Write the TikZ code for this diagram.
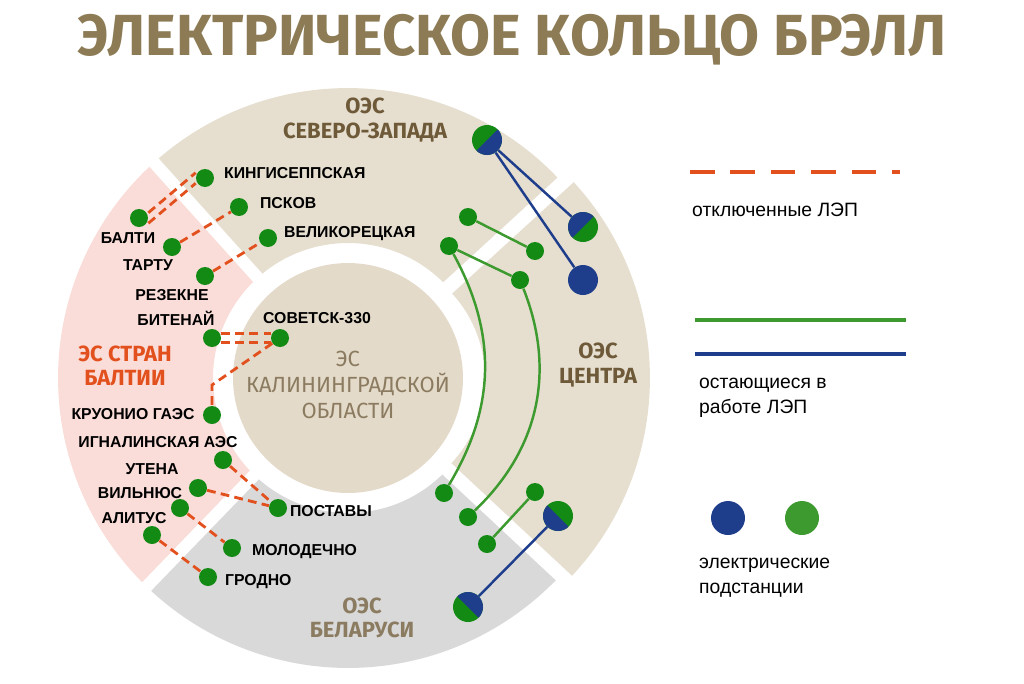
\documentclass[tikz,border=0pt]{standalone}
\usepackage{fontspec}
\setmainfont{Liberation Sans}
\newfontfamily\headfont{Fira Sans}
\usepackage[svgnames]{xcolor}
\usetikzlibrary{positioning}
\definecolor{beige}{HTML}{E6DFD0}
\definecolor{pinkbg}{HTML}{FADDD8}
\definecolor{greybg}{HTML}{D9D9D9}
\definecolor{brownt}{HTML}{6E5A38}
\definecolor{titlec}{HTML}{8C7B55}
\definecolor{redl}{HTML}{E2501E}
\definecolor{grn}{HTML}{138A13}
\definecolor{grnl}{HTML}{3C9A2E}
\definecolor{blu}{HTML}{1E3E8C}
\begin{document}
\begin{tikzpicture}[x=0.02cm, y=0.02cm,
sub/.style = {circle, fill=grn, inner sep=0pt, minimum size=0.36cm},
bigsub/.style = {circle, fill=blu, inner sep=0pt, minimum size=0.6cm},
split/.style = {circle, fill=grn, inner sep=0pt, minimum size=0.6cm,
  path picture={\fill[blu] (path picture bounding box.center) ++(#1:1cm) -- ++(#1-90:1cm) -- ++(#1+180:2cm) -- ++(#1+90:1cm) -- cycle;}},
lbl/.style = {font=\fontsize{9}{10}\selectfont\bfseries, inner sep=1pt},
off/.style = {draw=redl, line width=1.6pt, dash pattern=on 5pt off 3pt},
onl/.style = {draw=grnl, line width=1.4pt},
onb/.style = {draw=blu, line width=1.4pt},
sector/.style = {font=\headfont\fontsize{12.5}{14}\selectfont\bfseries, align=center, text=brownt}]
\useasboundingbox (0,0) rectangle (1024,-683);
% ring sectors
\coordinate (c) at (348,-378);
\fill[beige] (c) ++(42.5:5.8cm) arc[start angle=42.5, end angle=132, radius=5.8cm] -- ([shift={(132:2.7cm)}]c) arc[start angle=132, end angle=42.5, radius=2.7cm] -- cycle;
\fill[pinkbg] (c) ++(132:5.8cm) arc[start angle=132, end angle=226, radius=5.8cm] -- ([shift={(226:2.7cm)}]c) arc[start angle=226, end angle=132, radius=2.7cm] -- cycle;
\fill[greybg] (c) ++(226:5.8cm) arc[start angle=226, end angle=317, radius=5.8cm] -- ([shift={(317:2.7cm)}]c) arc[start angle=317, end angle=226, radius=2.7cm] -- cycle;
\coordinate (c2) at (360,-378);
\fill[beige] (c2) ++(-43:5.8cm) arc[start angle=-43, end angle=42.5, radius=5.8cm] -- ([shift={(42.5:2.5cm)}]c2) arc[start angle=42.5, end angle=-43, radius=2.5cm] -- cycle;
\foreach \a in {42.5,132,226,317}
  \draw[white, line width=7pt] ([shift={(\a:2.3cm)}]c) -- ([shift={(\a:6.1cm)}]c);
\fill[beige!95!brown] (c) circle (2.3cm);
% titles
\node[font=\headfont\fontsize{33}{36}\selectfont\bfseries, text=titlec] (title) at (512,-40) {ЭЛЕКТРИЧЕСКОЕ КОЛЬЦО БРЭЛЛ};
\node[sector] (nw) at (365,-120) {ОЭС\\СЕВЕРО-ЗАПАДА};
\node[sector, text=redl] (bal) at (125,-366) {ЭС СТРАН\\БАЛТИИ};
\node[sector, font=\headfont\fontsize{12.5}{15}\selectfont, text=brownt!80] (kal) at (348,-385) {ЭС\\КАЛИНИНГРАДСКОЙ\\ОБЛАСТИ};
\node[sector] (cen) at (598,-365) {ОЭС\\ЦЕНТРА};
\node[sector, text=brownt!80] (bel) at (362,-618) {ОЭС\\БЕЛАРУСИ};
% substations west
\node[sub] (kin) at (205,-178) {};
\node[sub] (psk) at (239,-207) {};
\node[sub] (vel) at (268,-238) {};
\node[sub] (blt) at (139,-218) {};
\node[sub] (tar) at (172,-247) {};
\node[sub] (rez) at (205,-276) {};
\node[sub] (bit) at (212,-338) {};
\node[sub] (sov) at (280,-338) {};
\node[sub] (kru) at (212,-415) {};
\node[sub] (ign) at (223,-460) {};
\node[sub] (ute) at (198,-488) {};
\node[sub] (vil) at (180,-508) {};
\node[sub] (ali) at (152,-535) {};
\node[sub] (pos) at (278,-508) {};
\node[sub] (mol) at (232,-548) {};
\node[sub] (gro) at (208,-577) {};
\node[lbl, anchor=west] at (222,-173) {КИНГИСЕППСКАЯ};
\node[lbl, anchor=west] at (258,-203) {ПСКОВ};
\node[lbl, anchor=west] at (282,-234) {ВЕЛИКОРЕЦКАЯ};
\node[lbl] at (128,-238) {БАЛТИ};
\node[lbl] at (148,-265) {ТАРТУ};
\node[lbl] at (172,-295) {РЕЗЕКНЕ};
\node[lbl] at (176,-318) {БИТЕНАЙ};
\node[lbl] at (317,-318) {СОВЕТСК-330};
\node[lbl] at (133,-414) {КРУОНИО ГАЭС};
\node[lbl] at (158,-442) {ИГНАЛИНСКАЯ АЭС};
\node[lbl] at (152,-469) {УТЕНА};
\node[lbl] at (140,-493) {ВИЛЬНЮС};
\node[lbl] at (134,-518) {АЛИТУС};
\node[lbl, anchor=west] at (288,-511) {ПОСТАВЫ};
\node[lbl, anchor=west] at (250,-552) {МОЛОДЕЧНО};
\node[lbl, anchor=west] at (223,-582) {ГРОДНО};
% east substations
\node[sub] (e1) at (468,-217) {};
\node[sub] (e2) at (449,-246) {};
\node[sub] (e3) at (535,-251) {};
\node[sub] (e4) at (520,-280) {};
\node[sub] (e5) at (444,-493) {};
\node[sub] (e6) at (468,-517) {};
\node[sub] (e7) at (535,-492) {};
\node[sub] (e8) at (487,-544) {};
\node[split=45] (s1) at (487,-140) {};
\node[split=225] (s2) at (583,-227) {};
\node[bigsub] (s3) at (583,-280) {};
\node[split=315] (s4) at (558,-516) {};
\node[split=135] (s5) at (468,-607) {};
% disconnected lines
\draw[off] ([yshift=3pt]blt.east) -- ([yshift=3pt]kin.west);
\draw[off] ([yshift=-3pt]blt.east) -- ([yshift=-3pt]kin.west);
\draw[off] (tar) -- (psk);
\draw[off] (rez) -- (vel);
\draw[off] ([yshift=2.5pt]bit.east) -- ([yshift=2.5pt]sov.west);
\draw[off] ([yshift=-2.5pt]bit.east) -- ([yshift=-2.5pt]sov.west);
\draw[off] (sov) -- (212,-385) -- (kru);
\draw[off] (ign) -- (pos);
\draw[off] (ute) -- (pos);
\draw[off] (vil) -- (mol);
\draw[off] (ali) -- (gro);
% remaining lines
\draw[onl] (e1) -- (e3);
\draw[onl] (e2) -- (e4);
\draw[onl] (e2) to[bend left=30] (e5);
\draw[onl] (e4) to[bend left=34] (e6);
\draw[onl] (e7) -- (e8);
\draw[onb] (s1) -- (s2);
\draw[onb] (s1) -- (s3);
\draw[onb] (s4) -- (s5);
% legend
\coordinate (l1) at (690,-172); \coordinate (l2) at (900,-172);
\draw[redl, line width=2.4pt, dash pattern=on 14pt off 9pt] (l1) -- (l2);
\node[font=\fontsize{11}{13}\selectfont, anchor=west] (t1) at (686,-210) {отключенные ЛЭП};
\coordinate (l3) at (695,-320); \coordinate (l4) at (906,-320);
\coordinate (l5) at (695,-354); \coordinate (l6) at (906,-354);
\draw[grnl, line width=2.2pt] (l3) -- (l4);
\draw[blu, line width=2.2pt] (l5) -- (l6);
\node[font=\fontsize{11}{14}\selectfont, anchor=west, align=left] (t2) at (693,-398) {остающиеся в\\работе ЛЭП};
\node[circle, fill=blu, minimum size=0.68cm, inner sep=0pt] (lb) at (728,-518) {};
\node[circle, fill=grnl, minimum size=0.68cm, inner sep=0pt] (lg) at (802,-518) {};
\node[font=\fontsize{11}{14}\selectfont, anchor=west, align=left] (t3) at (693,-578) {электрические\\подстанции};
\end{tikzpicture}
\end{document}
